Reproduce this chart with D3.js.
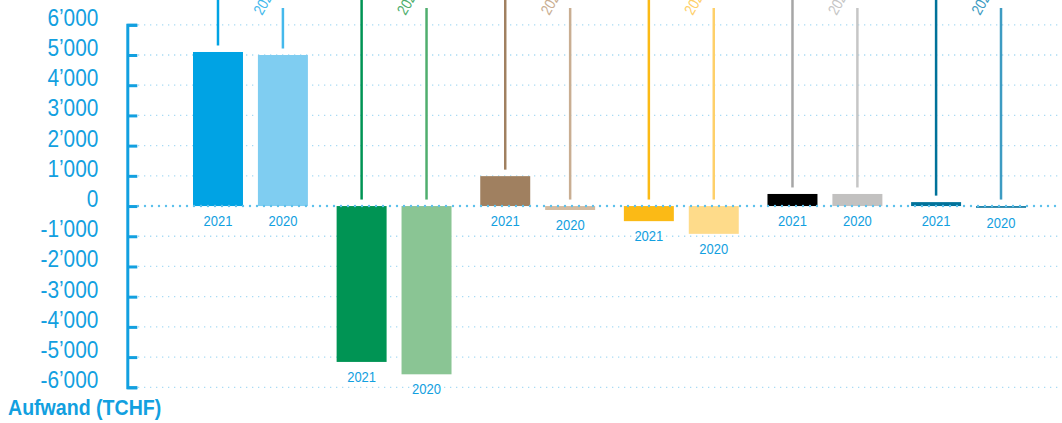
<!DOCTYPE html>
<html>
<head>
<meta charset="utf-8">
<script src="https://cdn.jsdelivr.net/npm/d3@7"></script>
<style>
  html, body { margin: 0; padding: 0; background: #ffffff; }
  svg { display: block; }
  text { font-family: "Liberation Sans", Arial, sans-serif; }
</style>
</head>
<body>
<svg id="chart" width="1062" height="423"></svg>
<script>
// Aufwand in TCHF, je Bereich 2021 vs. 2020
const groups = ["A", "B", "C", "D", "E", "F"];
const years = ["2021", "2020"];
const values2021 = [5100, -5160, 990, -500, 400, 130];
const values2020 = [5000, -5570, -130, -920, 400, -60];
const yTicks = [-6000, -5000, -4000, -3000, -2000, -1000, 0, 1000, 2000, 3000, 4000, 5000, 6000];
const axisTitle = "Aufwand (TCHF)";

// colours per group: [2021 bar, 2020 bar], [2021 leader, 2020 leader]
const barColors = [
  ["#00a3e4", "#7fcdf1"],
  ["#009454", "#8ac594"],
  ["#a08060", "#d3bba1"],
  ["#fbba16", "#fedb8a"],
  ["#000000", "#c2c1c0"],
  ["#00729a", "#1a7ea5"]
];
const leaderColors = [
  ["#00a3e4", "#45b9ec"],
  ["#009454", "#4fae6e"],
  ["#a08060", "#c9ae92"],
  ["#fbba16", "#fed06a"],
  ["#a6a6a6", "#c6c6c6"],
  ["#00729a", "#3d9bc2"]
];

const blue = "#12a0e0";
const svg = d3.select("#chart");
const W = 1062;

// horizontal squeeze that gives the condensed lettering
const SQ_TICK = 0.905, SQ_YEAR = 0.84, SQ_TITLE = 0.89;

const y = d3.scaleLinear().domain([-6000, 6000]).range([387.3, 24.8]);
const x0 = d3.scaleBand().domain(groups).range([193, 1026]).paddingInner(0.2).paddingOuter(0);
const x1 = d3.scaleBand().domain(years).range([0, x0.bandwidth()]).paddingInner(0.23).paddingOuter(0);
const cx = d => x0(d.g) + x1(d.yr) + x1.bandwidth() / 2;

const loc = d3.formatLocale({ decimal: ".", thousands: "\u2019", grouping: [3], currency: ["", ""], minus: "-" });
const fmt = loc.format(",d");

// dotted grid lines
svg.append("g").selectAll("line")
  .data(yTicks.filter(d => d !== 0))
  .join("line")
  .attr("x1", 138).attr("x2", W)
  .attr("y1", d => y(d)).attr("y2", d => y(d))
  .attr("stroke", "#a9dbf4")
  .attr("stroke-width", 1.3)
  .attr("stroke-dasharray", "1.3,4.7");

// y axis with bracket-shaped domain
const axis = d3.axisLeft(y).tickValues(yTicks).tickFormat(fmt)
  .tickSizeInner(-10).tickSizeOuter(-10).tickPadding(29);
const gAxis = svg.append("g").attr("transform", "translate(127.3,0)").call(axis);
gAxis.attr("font-family", null).attr("font-size", null);
gAxis.select(".domain").attr("stroke", blue).attr("stroke-width", 3).attr("fill", "none");
gAxis.selectAll(".tick line").attr("stroke", blue).attr("stroke-width", 3);
gAxis.selectAll(".tick text")
  .attr("fill", blue)
  .attr("font-size", 23)
  .attr("x", -29 / SQ_TICK)
  .attr("dy", "0.02em")
  .attr("transform", `scale(${SQ_TICK},1)`);

// bar rows
const rows = [];
groups.forEach((g, i) => {
  years.forEach((yr, j) => {
    const v = j === 0 ? values2021[i] : values2020[i];
    rows.push({ g, yr, v, gi: i, yi: j });
  });
});

const gBars = svg.append("g");

// leader lines
gBars.selectAll("line.leader")
  .data(rows)
  .join("line")
  .attr("class", "leader")
  .attr("x1", cx).attr("x2", cx)
  .attr("y1", d => d.yi === 0 ? -10 : 8)
  .attr("y2", d => Math.min(y(d.v), y(0)) - 6.5)
  .attr("stroke", d => leaderColors[d.gi][d.yi])
  .attr("stroke-width", 2.5);

// rotated year tags at the top of the 2020 leaders
gBars.selectAll("text.tag")
  .data(rows.filter(d => d.yi === 1))
  .join("text")
  .attr("class", "tag")
  .attr("transform", d => `translate(${cx(d) - 21},16) rotate(-60) scale(${SQ_YEAR},1)`)
  .attr("fill", d => leaderColors[d.gi][d.yi])
  .attr("font-size", 15.5)
  .text(d => d.yr);

// zero line (heavier dots)
svg.append("line")
  .attr("x1", 138).attr("x2", W)
  .attr("y1", y(0)).attr("y2", y(0))
  .attr("stroke", "#5ec1ec")
  .attr("stroke-width", 2.4)
  .attr("stroke-linecap", "round")
  .attr("stroke-dasharray", "0,7");

// bars
gBars.selectAll("rect")
  .data(rows)
  .join("rect")
  .attr("x", d => x0(d.g) + x1(d.yr))
  .attr("width", x1.bandwidth())
  .attr("y", d => Math.min(y(d.v), y(0)))
  .attr("height", d => Math.abs(y(d.v) - y(0)))
  .attr("fill", d => barColors[d.gi][d.yi]);

// year labels under each bar
gBars.selectAll("text.year")
  .data(rows)
  .join("text")
  .attr("class", "year")
  .attr("transform", d => `translate(${cx(d)},${Math.max(y(d.v), y(0)) + 20}) scale(${SQ_YEAR},1)`)
  .attr("text-anchor", "middle")
  .attr("fill", blue)
  .attr("font-size", 15.5)
  .text(d => d.yr);

// axis title
svg.append("text")
  .attr("transform", `translate(8,414.5) scale(${SQ_TITLE},1)`)
  .attr("fill", blue)
  .attr("font-size", 22)
  .attr("font-weight", "bold")
  .text(axisTitle);
</script>
</body>
</html>
